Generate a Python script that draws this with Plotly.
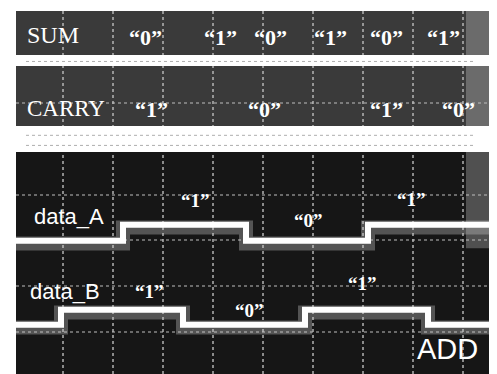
import plotly.graph_objects as go

# time axis in screen divisions (1 div = 50 px horizontally)
X_START, X_END = 0.06, 9.84

# logic traces: transition times (div) and logic level per segment
data_A_edges = [0.06, 2.2, 4.66, 7.1, 9.84]
data_A_bits = [0, 1, 0, 1]
data_B_edges = [0.06, 0.96, 3.4, 5.84, 8.3, 9.84]
data_B_bits = [0, 1, 0, 1, 0]

# vertical placement (divisions) of each channel's low level and step height
data_A_base, data_A_step = 2.99, 0.35
data_B_base, data_B_step = 1.16, 0.33
SUM_level = 6.92
CARRY_level = 5.21

# bit labels
sum_label_x = [2.64, 4.14, 5.14, 6.34, 7.46, 8.6]
sum_label_txt = ["“0”", "“1”", "“0”", "“1”", "“0”", "“1”"]
carry_label_x = [2.76, 5.02, 7.46, 8.9]
carry_label_txt = ["“1”", "“0”", "“1”", "“0”"]
a_label_x = [3.64, 5.9, 7.96]
a_label_y = [3.75, 3.31, 3.77]
a_label_txt = ["“1”", "“0”", "“1”"]
b_label_x = [2.72, 4.72, 6.98]
b_label_y = [1.76, 1.35, 1.94]
b_label_txt = ["“1”", "“0”", "“1”"]

TXT_DY = 0.13  # raise text so its glyphs sit where the reference shows them


def step_xy(edges, bits, base, step):
    xs, ys = [], []
    for i, b in enumerate(bits):
        xs += [edges[i], edges[i + 1]]
        ys += [base + b * step] * 2
    return xs, ys


fig = go.Figure()

fig.add_trace(go.Scatter(x=[X_START, X_END], y=[SUM_level, SUM_level], mode="lines",
                         line=dict(color="white", width=11), hoverinfo="skip"))
fig.add_trace(go.Scatter(x=[X_START, X_END], y=[CARRY_level, CARRY_level], mode="lines",
                         line=dict(color="white", width=26), hoverinfo="skip"))
for yy in [SUM_level - 0.02, CARRY_level + 0.08, CARRY_level - 0.14]:
    fig.add_trace(go.Scatter(x=[X_START + 0.2, X_END - 0.6], y=[yy, yy], mode="lines",
                             line=dict(color="rgba(120,120,120,0.6)", width=1, dash="dot"),
                             hoverinfo="skip"))

for edges, bits, base, step in [(data_A_edges, data_A_bits, data_A_base, data_A_step),
                                (data_B_edges, data_B_bits, data_B_base, data_B_step)]:
    xs, ys = step_xy(edges, bits, base, step)
    fig.add_trace(go.Scatter(x=xs, y=[v - 0.06 for v in ys], mode="lines",
                             line=dict(color="rgba(200,200,200,0.35)", width=14), hoverinfo="skip"))
    fig.add_trace(go.Scatter(x=xs, y=ys, mode="lines",
                             line=dict(color="white", width=6), hoverinfo="skip"))

serif = "Liberation Serif"
sans = "Liberation Sans"
ann = []
ann.append(dict(x=0.8, y=7.35, text="SUM", font=dict(family=serif, size=24, color="white")))
ann.append(dict(x=1.06, y=5.75, text="CARRY", font=dict(family=serif, size=23, color="white")))
for x, t in zip(sum_label_x, sum_label_txt):
    ann.append(dict(x=x, y=7.3, text="<b>" + t + "</b>", font=dict(family=serif, size=22, color="white")))
for x, t in zip(carry_label_x, carry_label_txt):
    ann.append(dict(x=x, y=5.72, text="<b>" + t + "</b>", font=dict(family=serif, size=22, color="white")))
for x, y, t in zip(a_label_x, a_label_y, a_label_txt):
    ann.append(dict(x=x, y=y, text="<b>" + t + "</b>", font=dict(family=serif, size=19, color="white")))
for x, y, t in zip(b_label_x, b_label_y, b_label_txt):
    ann.append(dict(x=x, y=y, text="<b>" + t + "</b>", font=dict(family=serif, size=19, color="white")))
ann.append(dict(x=1.12, y=3.38, text="data_A", font=dict(family=sans, size=22, color="white")))
ann.append(dict(x=1.04, y=1.76, text="data_B", font=dict(family=sans, size=22, color="white")))
ann.append(dict(x=8.68, y=0.5, text="ADD", font=dict(family=sans, size=29, color="white")))
for a in ann:
    a["y"] = a["y"] + TXT_DY
    a.update(xref="x", yref="y", showarrow=False, xanchor="center", yanchor="middle")

shapes = [
    dict(type="rect", xref="x", yref="y", x0=X_START, x1=X_END, y0=CARRY_level, y1=8,
         fillcolor="#3a3a3a", line_width=0, layer="below"),
    dict(type="rect", xref="x", yref="y", x0=9.06, x1=X_END, y0=2.83, y1=8,
         fillcolor="rgba(255,255,255,0.25)", line_width=0, layer="below"),
]

fig.update_layout(
    width=497, height=374,
    margin=dict(l=8, r=0, t=3, b=4),
    paper_bgcolor="white", plot_bgcolor="#161616",
    showlegend=False, annotations=ann, shapes=shapes,
    xaxis=dict(range=[X_START, X_END], dtick=1, tick0=0, showticklabels=False,
               showgrid=True, gridcolor="rgba(190,190,190,0.7)", gridwidth=1.5, griddash="dot",
               zeroline=False, showline=False, ticks=""),
    yaxis=dict(range=[0, 8], dtick=1, tick0=0, showticklabels=False,
               showgrid=True, gridcolor="rgba(190,190,190,0.5)", gridwidth=1.5, griddash="dot",
               zeroline=False, showline=False, ticks=""),
)

fig.write_html("out.html")
